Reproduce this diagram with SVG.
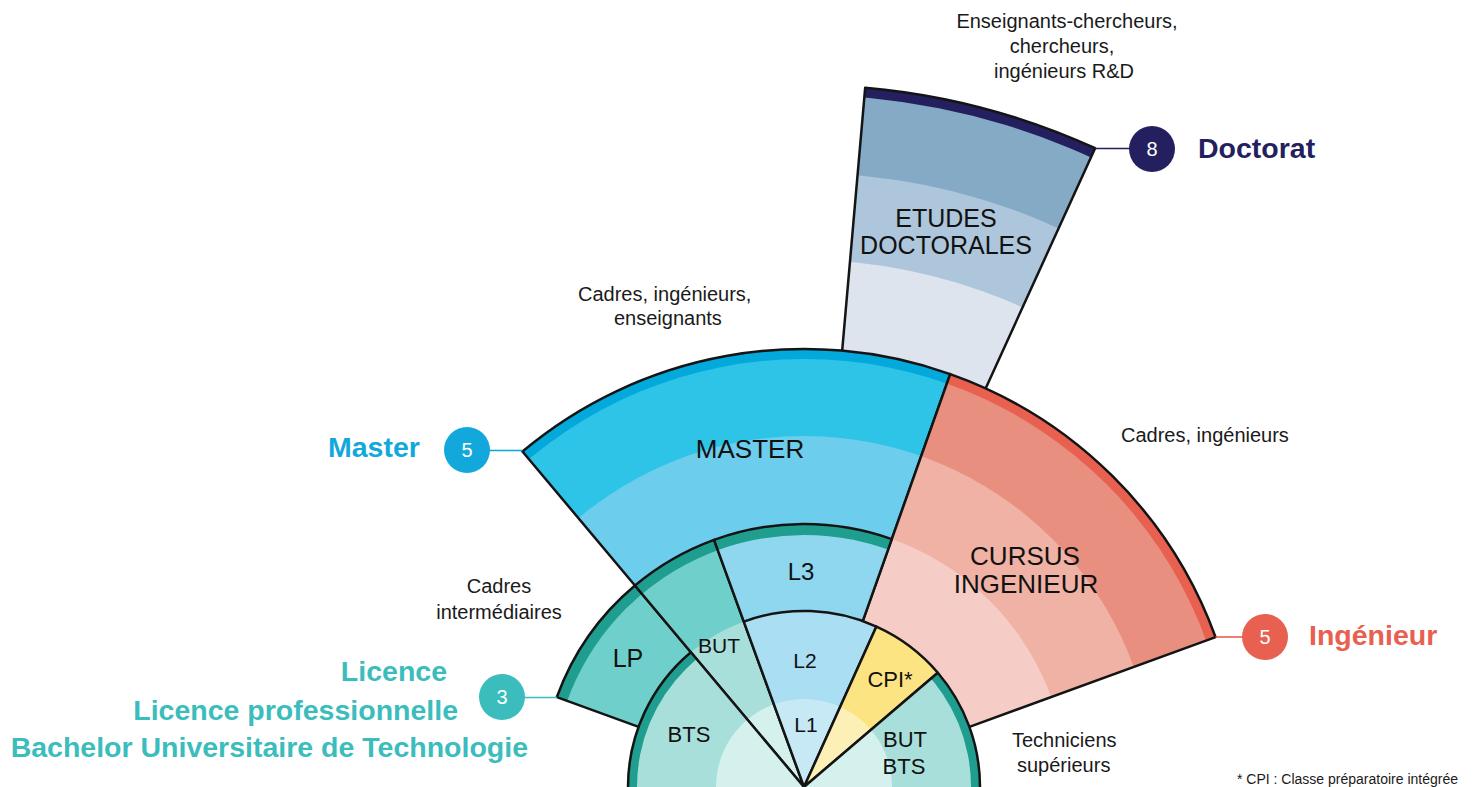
<svg xmlns="http://www.w3.org/2000/svg" width="1480" height="787" viewBox="0 0 1480 787">
<style>
text{font-family:"Liberation Sans",Arial,sans-serif}
.ol{fill:none;stroke:#141414;stroke-width:2.5;stroke-linejoin:round}
.in{font-size:26px;fill:#111;text-anchor:middle}
.sm{font-size:21px;fill:#111;text-anchor:middle}
.note{font-size:20px;fill:#1a1a1a}
.big{font-size:28.5px;font-weight:bold}
.num{font-size:20px;fill:#fff;text-anchor:middle}
.con{stroke-width:1.6;fill:none}
</style>
<defs>
<clipPath id="c-doc"><path d="M842.18,350.67 L865.19,87.67 A702,702 0 0,1 1095.11,148.21 L985.63,388.44 A438,438 0 0,0 842.18,350.67 Z"/></clipPath>
<clipPath id="c-master"><path d="M634.95,585.53 L522.46,451.47 A438,438 0 0,1 950.21,374.12 L891.79,539.09 A263,263 0 0,0 634.95,585.53 Z"/></clipPath>
<clipPath id="c-ing"><path d="M862.75,621.10 L950.21,374.12 A438,438 0 0,1 1215.58,637.20 L969.39,726.80 A176,176 0 0,0 862.75,621.10 Z"/></clipPath>
<clipPath id="c-lp"><path d="M638.61,726.80 L556.86,697.05 A263,263 0 0,1 634.95,585.53 L690.87,652.18 A176,176 0 0,0 638.61,726.80 Z"/></clipPath>
<clipPath id="c-but"><path d="M804,787 L634.95,585.53 A263,263 0 0,1 714.05,539.86 Z"/></clipPath>
<clipPath id="c-l3"><path d="M743.80,621.61 L714.05,539.86 A263,263 0 0,1 891.79,539.09 L862.75,621.10 A176,176 0 0,0 743.80,621.61 Z"/></clipPath>
<clipPath id="c-bts"><path d="M804,787 L628,787 A176,176 0 0,1 690.87,652.18 Z"/></clipPath>
<clipPath id="c-l12"><path d="M804,787 L743.80,621.61 A176,176 0 0,1 876.43,626.59 Z"/></clipPath>
<clipPath id="c-cpi"><path d="M804,787 L876.43,626.59 A176,176 0 0,1 937.83,672.70 Z"/></clipPath>
<clipPath id="c-butbts"><path d="M804,787 L937.83,672.70 A176,176 0 0,1 980,787 Z"/></clipPath>
</defs>
<rect width="1480" height="787" fill="#fff"/>

<g id="doctorat">
<g clip-path="url(#c-doc)">
<circle cx="804" cy="787" r="702" fill="#241f5e"/>
<circle cx="804" cy="787" r="692" fill="#84aac5"/>
<circle cx="804" cy="787" r="614" fill="#adc6db"/>
<circle cx="804" cy="787" r="527" fill="#dde4ee"/>
</g>
<path class="ol" d="M842.18,350.67 L865.19,87.67 A702,702 0 0,1 1095.11,148.21 L985.63,388.44"/>
<text class="in" style="font-size:25px" x="946" y="227">ETUDES</text>
<text class="in" style="font-size:25px" x="946" y="254">DOCTORALES</text>
</g>

<g id="master">
<g clip-path="url(#c-master)">
<circle cx="804" cy="787" r="438" fill="#04a9dc"/>
<circle cx="804" cy="787" r="428" fill="#2dc4e8"/>
<circle cx="804" cy="787" r="351" fill="#6dcdec"/>
</g>
<path class="ol" d="M634.95,585.53 L522.46,451.47 A438,438 0 0,1 950.21,374.12 L891.79,539.09"/>
<text class="in" x="750" y="458">MASTER</text>
</g>

<g id="ingenieur">
<g clip-path="url(#c-ing)">
<circle cx="804" cy="787" r="438" fill="#e8604f"/>
<circle cx="804" cy="787" r="428" fill="#e88f7f"/>
<circle cx="804" cy="787" r="351" fill="#f0b2a5"/>
<circle cx="804" cy="787" r="263" fill="#f5cdc6"/>
</g>
<path class="ol" d="M862.75,621.10 L950.21,374.12 A438,438 0 0,1 1215.58,637.20 L969.39,726.80"/>
<text class="in" x="1025" y="565">CURSUS</text>
<text class="in" x="1026" y="593">INGENIEUR</text>
</g>

<g id="lp">
<g clip-path="url(#c-lp)">
<circle cx="804" cy="787" r="263" fill="#1f9e8f"/>
<circle cx="804" cy="787" r="252" fill="#6fd0cb"/>
</g>
<path class="ol" d="M638.61,726.80 L556.86,697.05 A263,263 0 0,1 634.95,585.53 L690.87,652.18"/>
<text class="in" style="font-size:25px" x="628" y="667">LP</text>
</g>

<g id="but">
<g clip-path="url(#c-but)">
<circle cx="804" cy="787" r="263" fill="#1f9e8f"/>
<circle cx="804" cy="787" r="252" fill="#6fd0cb"/>
<circle cx="804" cy="787" r="176" fill="#a9dfda"/>
<circle cx="804" cy="787" r="88" fill="#d5f1ee"/>
</g>
<path class="ol" d="M804,787 L634.95,585.53 A263,263 0 0,1 714.05,539.86 Z"/>
<text class="sm" x="719" y="653">BUT</text>
</g>

<g id="l3">
<g clip-path="url(#c-l3)">
<circle cx="804" cy="787" r="263" fill="#1f9e8f"/>
<circle cx="804" cy="787" r="252" fill="#8fd6ef"/>
</g>
<path class="ol" d="M743.80,621.61 L714.05,539.86 A263,263 0 0,1 891.79,539.09 L862.75,621.10"/>
<text class="in" style="font-size:24px" x="801" y="580">L3</text>
</g>

<g id="bts">
<g clip-path="url(#c-bts)">
<circle cx="804" cy="787" r="176" fill="#1f9e8f"/>
<circle cx="804" cy="787" r="167" fill="#a9dfda"/>
<circle cx="804" cy="787" r="88" fill="#d5f1ee"/>
</g>
<path class="ol" d="M628,787 A176,176 0 0,1 690.87,652.18 L804,787"/>
<text class="sm" style="font-size:22px" x="689" y="742">BTS</text>
</g>

<g id="l1-l2">
<g clip-path="url(#c-l12)">
<circle cx="804" cy="787" r="176" fill="#aadef2"/>
<circle cx="804" cy="787" r="88" fill="#c7e9f6"/>
</g>
<path class="ol" d="M804,787 L743.80,621.61 A176,176 0 0,1 876.43,626.59 Z"/>
<text class="sm" x="805" y="668">L2</text>
<text class="sm" x="806" y="732">L1</text>
</g>

<g id="cpi">
<g clip-path="url(#c-cpi)">
<circle cx="804" cy="787" r="176" fill="#fde482"/>
<circle cx="804" cy="787" r="88" fill="#fdf0b7"/>
</g>
<path class="ol" d="M804,787 L876.43,626.59 A176,176 0 0,1 937.83,672.70 Z"/>
<text class="sm" style="font-size:22px" x="890" y="687">CPI*</text>
</g>

<g id="but-bts">
<g clip-path="url(#c-butbts)">
<circle cx="804" cy="787" r="176" fill="#1f9e8f"/>
<circle cx="804" cy="787" r="167" fill="#a9dfda"/>
<circle cx="804" cy="787" r="88" fill="#d5f1ee"/>
</g>
<path class="ol" d="M804,787 L937.83,672.70 A176,176 0 0,1 980,787"/>
<text class="sm" style="font-size:22px" x="905" y="747">BUT</text>
<text class="sm" style="font-size:22px" x="904" y="774">BTS</text>
</g>

<g id="connectors">
<line class="con" stroke="#04a9dc" x1="489" y1="450.5" x2="522.5" y2="450.5"/>
<line class="con" stroke="#241f5e" x1="1095" y1="148.5" x2="1130" y2="148.5"/>
<line class="con" stroke="#e8604f" x1="1215.5" y1="637" x2="1243" y2="637"/>
<line class="con" stroke="#3bbdbd" x1="524" y1="697.5" x2="557" y2="697.5"/>
</g>

<g id="level-master">
<circle cx="467" cy="450" r="23" fill="#12a8dc"/>
<text class="num" x="467" y="457">5</text>
<text class="big" fill="#12a8dc" x="328" y="457">Master</text>
</g>
<g id="level-doctorat">
<circle cx="1152" cy="149" r="23" fill="#241f5e"/>
<text class="num" x="1152" y="156">8</text>
<text class="big" fill="#241f5e" x="1198" y="158">Doctorat</text>
</g>
<g id="level-ingenieur">
<circle cx="1265" cy="637" r="23" fill="#e8604f"/>
<text class="num" x="1265" y="644">5</text>
<text class="big" fill="#e8604f" x="1309" y="645">Ingénieur</text>
</g>
<g id="level-licence">
<circle cx="502" cy="697" r="23" fill="#3bbdbd"/>
<text class="num" x="502" y="704">3</text>
<text class="big" fill="#3bbdbd" text-anchor="end" x="447" y="681">Licence</text>
<text class="big" fill="#3bbdbd" text-anchor="end" x="458" y="720">Licence professionnelle</text>
<text class="big" fill="#3bbdbd" text-anchor="end" x="528" y="757">Bachelor Universitaire de Technologie</text>
</g>

<g id="outcomes">
<text class="note" text-anchor="middle" x="1067" y="28">Enseignants-chercheurs,</text>
<text class="note" text-anchor="middle" x="1062" y="53">chercheurs,</text>
<text class="note" text-anchor="middle" x="1064" y="78">ingénieurs R&amp;D</text>
<text class="note" x="578" y="301">Cadres, ingénieurs,</text>
<text class="note" x="614" y="325">enseignants</text>
<text class="note" x="1121" y="442">Cadres, ingénieurs</text>
<text class="note" text-anchor="middle" x="499" y="593">Cadres</text>
<text class="note" text-anchor="middle" x="499" y="619">intermédiaires</text>
<text class="note" x="1012" y="747">Techniciens</text>
<text class="note" x="1017" y="772">supérieurs</text>
<text style="font-size:14px;fill:#1a1a1a" x="1237" y="784">* CPI : Classe préparatoire intégrée</text>
</g>
</svg>
